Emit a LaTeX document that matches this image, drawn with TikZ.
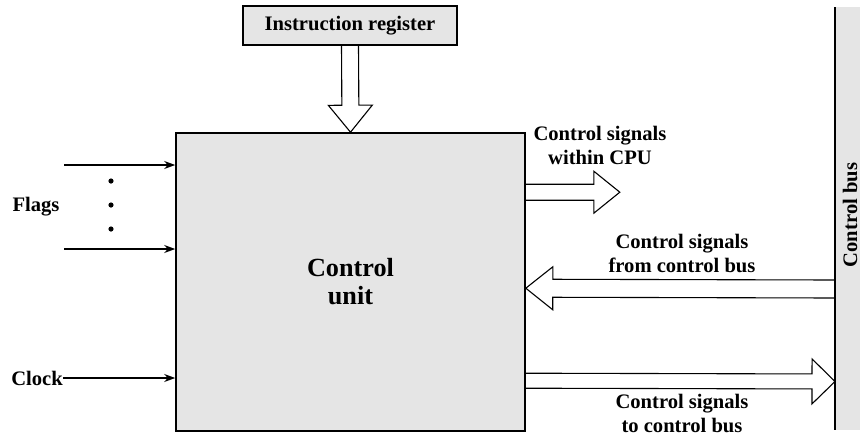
\documentclass[tikz,border=0pt]{standalone}
\usepackage{fontspec}
\setmainfont{Liberation Serif}
\usetikzlibrary{calc,arrows.meta,backgrounds}
\definecolor{boxgray}{gray}{0.9}

% hollow block arrow: tail, tip, shaft half-width, head half-width, head length
\newcommand{\hollowarrow}[5]{%
  \coordinate (hb) at ($(#2)!#5!(#1)$);
  \draw[fat] ($(#1)!#3!90:(#2)$) -- ($(hb)!#3!90:(#2)$) -- ($(hb)!#4!90:(#2)$)
    -- (#2) -- ($(hb)!#4!-90:(#2)$) -- ($(hb)!#3!-90:(#2)$) -- ($(#1)!#3!-90:(#2)$);
}

\begin{document}
\begin{tikzpicture}[x=1pt,y=-1pt,
  font=\bfseries\fontsize{20.6}{24}\selectfont,
  box/.style={draw, line width=1.6pt, fill=boxgray, inner sep=0, align=center},
  fat/.style={draw, line width=1.1pt, fill=white, line join=miter},
  thinarrow/.style={-{Stealth[length=11pt,width=8pt]}, line width=1.4pt},
  lbl/.style={align=center, inner sep=0}]
\useasboundingbox (0,0) rectangle (860,437);

% blocks
\node[box, minimum width=214pt, minimum height=39pt] (ir) at (350,25.5) {Instruction register};
\node[box, minimum width=349pt, minimum height=298pt,
      font=\bfseries\fontsize{26.2}{28}\selectfont] (cu) at (350.5,282) {Control\\unit};

% control bus
\node[fill=boxgray, inner sep=0, minimum width=27pt, minimum height=423pt, anchor=north west] (bus) at (835,7) {};
\draw[line width=1.4pt] (bus.north west) -- (bus.south west);
\node[lbl, rotate=90] (buslabel) at (850,215) {Control bus};

% block arrows
\coordinate (cpuin) at ($(cu.north east)+(0,60)$);
\coordinate (cpuout) at ($(cpuin)+(94,0)$);
\coordinate (frombus) at ($(bus.north west)+(0,282)$);
\coordinate (fromtip) at ($(cu.north east)+(0,156)$);
\coordinate (tobus) at ($(cu.north east)+(0,248.5)$);
\coordinate (totip) at ($(bus.north west)+(0,374.5)$);
\begin{scope}[on background layer]
  \hollowarrow{ir.south}{cu.north}{8.5pt}{22pt}{27pt}
  \hollowarrow{cpuin}{cpuout}{8pt}{21pt}{26pt}
  \hollowarrow{frombus}{fromtip}{9pt}{21.5pt}{27pt}
  \hollowarrow{tobus}{totip}{7.5pt}{22.5pt}{23pt}
\end{scope}

% flags and clock inputs
\coordinate (f1) at (64,165);
\coordinate (f2) at (64,249);
\draw[thinarrow] (f1) -- (f1 -| cu.west);
\draw[thinarrow] (f2) -- (f2 -| cu.west);
\fill (111,181) circle (2.6) (111,205) circle (2.6) (111,229) circle (2.6);
\node[lbl] (flags) at (36,207) {Flags};
\node[lbl, anchor=east] (clock) at (63,378) {Clock};
\draw[thinarrow] (clock.east) -- (clock.east -| cu.west);

% signal labels
\node[lbl] (l1) at (600,145) {Control signals\\within CPU};
\node[lbl] (l2) at (682,253) {Control signals\\from control bus};
\node[lbl] (l3) at (682,413.5) {Control signals\\to control bus};
\end{tikzpicture}
\end{document}
